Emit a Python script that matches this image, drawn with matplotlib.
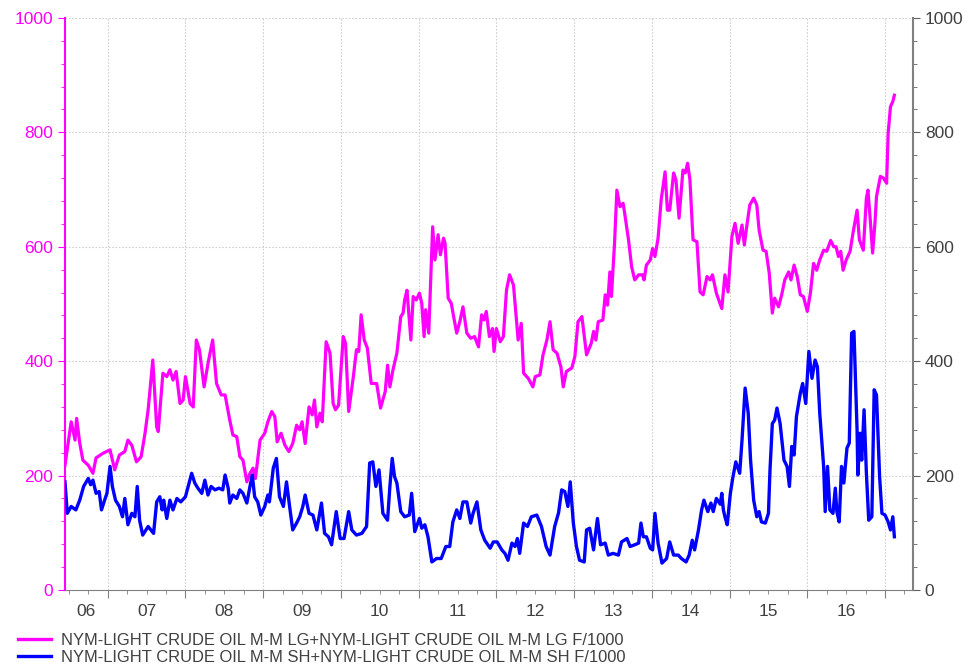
import numpy as np
import matplotlib.pyplot as plt
from matplotlib.lines import Line2D

plt.rcParams['font.family'] = ['Liberation Sans', 'DejaVu Sans']

# Managed money long positions (contracts / 1000), decimal year
lg_t = [2006.45, 2006.53, 2006.58, 2006.60, 2006.64, 2006.68, 2006.75, 2006.81, 2006.85, 2006.94,
        2007.03, 2007.09, 2007.15, 2007.22, 2007.26, 2007.31, 2007.37, 2007.43, 2007.48, 2007.52,
        2007.58, 2007.63, 2007.65, 2007.71, 2007.76, 2007.80, 2007.84, 2007.88, 2007.93, 2007.97,
        2008.00, 2008.06, 2008.10, 2008.14, 2008.18, 2008.24, 2008.29, 2008.35, 2008.40, 2008.46,
        2008.51, 2008.57, 2008.61, 2008.66, 2008.70, 2008.74, 2008.79, 2008.83, 2008.87, 2008.90,
        2008.96, 2009.02, 2009.06, 2009.11, 2009.15, 2009.18, 2009.23, 2009.28, 2009.33, 2009.38,
        2009.43, 2009.47, 2009.50, 2009.54, 2009.59, 2009.63, 2009.66, 2009.69, 2009.73, 2009.76,
        2009.81, 2009.86, 2009.90, 2009.93, 2009.97, 2010.03, 2010.06, 2010.10, 2010.16, 2010.20,
        2010.23, 2010.26, 2010.30, 2010.34, 2010.39, 2010.46, 2010.51, 2010.57, 2010.60, 2010.63,
        2010.67, 2010.72, 2010.77, 2010.80, 2010.82, 2010.85, 2010.90, 2010.93, 2010.97, 2011.01,
        2011.04, 2011.07, 2011.09, 2011.13, 2011.18, 2011.21, 2011.25, 2011.28, 2011.32, 2011.34,
        2011.38, 2011.42, 2011.45, 2011.49, 2011.53, 2011.57, 2011.62, 2011.67, 2011.72, 2011.77,
        2011.81, 2011.84, 2011.87, 2011.91, 2011.95, 2011.97, 2012.00, 2012.05, 2012.09, 2012.13,
        2012.17, 2012.22, 2012.28, 2012.32, 2012.35, 2012.41, 2012.47, 2012.50, 2012.56, 2012.60,
        2012.65, 2012.69, 2012.73, 2012.78, 2012.83, 2012.86, 2012.90, 2012.97, 2013.01, 2013.05,
        2013.10, 2013.16, 2013.22, 2013.25, 2013.28, 2013.31, 2013.37, 2013.40, 2013.43, 2013.46,
        2013.48, 2013.52, 2013.55, 2013.59, 2013.63, 2013.65, 2013.70, 2013.74, 2013.78, 2013.83,
        2013.88, 2013.90, 2013.93, 2013.98, 2014.01, 2014.04, 2014.08, 2014.12, 2014.17, 2014.20,
        2014.23, 2014.28, 2014.31, 2014.35, 2014.40, 2014.43, 2014.46, 2014.49, 2014.53, 2014.58,
        2014.62, 2014.66, 2014.71, 2014.75, 2014.78, 2014.83, 2014.88, 2014.90, 2014.94, 2014.98,
        2015.03, 2015.07, 2015.11, 2015.16, 2015.19, 2015.22, 2015.26, 2015.31, 2015.35, 2015.38,
        2015.43, 2015.47, 2015.51, 2015.55, 2015.58, 2015.63, 2015.67, 2015.71, 2015.76, 2015.79,
        2015.83, 2015.87, 2015.91, 2015.95, 2016.00, 2016.04, 2016.08, 2016.12, 2016.16, 2016.21,
        2016.25, 2016.30, 2016.34, 2016.37, 2016.40, 2016.43, 2016.46, 2016.50, 2016.55, 2016.59,
        2016.64, 2016.67, 2016.72, 2016.76, 2016.78, 2016.81, 2016.84, 2016.87, 2016.89, 2016.94,
        2016.98, 2017.02, 2017.04, 2017.07, 2017.10, 2017.12]
lg_v = [218, 294, 262, 300, 257, 227, 218, 204, 231, 239,
        245, 210, 236, 242, 262, 253, 224, 233, 274, 315,
        402, 285, 277, 379, 373, 385, 367, 382, 326, 332,
        373, 326, 320, 437, 420, 355, 396, 437, 361, 341,
        341, 297, 271, 268, 233, 227, 189, 204, 213, 195,
        262, 274, 294, 312, 303, 259, 274, 253, 242, 256,
        288, 280, 294, 256, 320, 306, 332, 285, 309, 294,
        434, 414, 326, 315, 323, 443, 431, 312, 373, 420,
        417, 481, 437, 423, 361, 361, 318, 347, 393, 355,
        385, 414, 478, 484, 507, 524, 437, 513, 507, 519,
        501, 443, 490, 449, 635, 577, 621, 586, 615, 606,
        510, 501, 478, 449, 469, 495, 449, 440, 443, 425,
        481, 472, 487, 443, 457, 417, 457, 434, 443, 524,
        551, 533, 437, 466, 379, 370, 355, 373, 376, 411,
        437, 469, 420, 414, 390, 355, 382, 388, 408, 469,
        478, 411, 431, 452, 437, 469, 472, 516, 498, 556,
        513, 606, 699, 670, 676, 659, 612, 565, 542, 551,
        551, 542, 568, 577, 597, 583, 615, 682, 731, 664,
        664, 729, 717, 650, 734, 729, 746, 717, 612, 609,
        521, 516, 548, 542, 551, 519, 500, 492, 551, 521,
        618, 641, 606, 638, 603, 635, 673, 685, 673, 629,
        594, 592, 554, 484, 510, 495, 516, 542, 556, 542,
        568, 548, 516, 513, 487, 519, 571, 559, 577, 594,
        592, 611, 600, 600, 583, 592, 559, 577, 592, 626,
        664, 612, 594, 685, 699, 647, 589, 641, 688, 723,
        720, 711, 799, 845, 854, 865]

# Managed money short positions (contracts / 1000), decimal year
sh_t = [2006.45, 2006.48, 2006.53, 2006.59, 2006.64, 2006.69, 2006.75, 2006.78, 2006.81, 2006.85,
        2006.89, 2006.92, 2006.96, 2006.99, 2007.03, 2007.06, 2007.10, 2007.15, 2007.19, 2007.22,
        2007.26, 2007.31, 2007.35, 2007.38, 2007.41, 2007.45, 2007.52, 2007.59, 2007.63, 2007.67,
        2007.70, 2007.72, 2007.76, 2007.80, 2007.84, 2007.89, 2007.94, 2008.00, 2008.08, 2008.12,
        2008.16, 2008.21, 2008.25, 2008.29, 2008.33, 2008.38, 2008.43, 2008.48, 2008.51, 2008.55,
        2008.57, 2008.61, 2008.66, 2008.70, 2008.74, 2008.79, 2008.83, 2008.86, 2008.89, 2008.93,
        2008.97, 2009.02, 2009.06, 2009.08, 2009.13, 2009.17, 2009.21, 2009.26, 2009.30, 2009.34,
        2009.38, 2009.43, 2009.47, 2009.51, 2009.54, 2009.59, 2009.64, 2009.69, 2009.75, 2009.79,
        2009.84, 2009.88, 2009.94, 2009.99, 2010.04, 2010.10, 2010.14, 2010.20, 2010.27, 2010.33,
        2010.37, 2010.41, 2010.45, 2010.49, 2010.54, 2010.60, 2010.63, 2010.66, 2010.69, 2010.72,
        2010.77, 2010.82, 2010.88, 2010.91, 2010.95, 2011.01, 2011.04, 2011.08, 2011.12, 2011.17,
        2011.23, 2011.29, 2011.35, 2011.40, 2011.44, 2011.49, 2011.53, 2011.57, 2011.62, 2011.67,
        2011.70, 2011.75, 2011.80, 2011.85, 2011.92, 2011.96, 2012.01, 2012.07, 2012.11, 2012.15,
        2012.20, 2012.24, 2012.27, 2012.30, 2012.35, 2012.40, 2012.45, 2012.52, 2012.58, 2012.64,
        2012.69, 2012.75, 2012.80, 2012.84, 2012.88, 2012.92, 2012.95, 2012.99, 2013.03, 2013.07,
        2013.13, 2013.16, 2013.20, 2013.25, 2013.30, 2013.34, 2013.40, 2013.44, 2013.50, 2013.57,
        2013.61, 2013.68, 2013.72, 2013.78, 2013.83, 2013.86, 2013.89, 2013.93, 2013.98, 2014.01,
        2014.04, 2014.08, 2014.13, 2014.19, 2014.23, 2014.28, 2014.34, 2014.38, 2014.44, 2014.48,
        2014.52, 2014.55, 2014.60, 2014.64, 2014.67, 2014.72, 2014.76, 2014.79, 2014.83, 2014.88,
        2014.90, 2014.92, 2014.94, 2014.97, 2015.01, 2015.04, 2015.08, 2015.13, 2015.16, 2015.20,
        2015.24, 2015.27, 2015.31, 2015.35, 2015.38, 2015.41, 2015.46, 2015.50, 2015.52, 2015.55,
        2015.58, 2015.61, 2015.65, 2015.70, 2015.74, 2015.77, 2015.80, 2015.83, 2015.86, 2015.91,
        2015.94, 2015.98, 2016.02, 2016.06, 2016.10, 2016.13, 2016.16, 2016.21, 2016.23, 2016.26,
        2016.29, 2016.33, 2016.36, 2016.38, 2016.41, 2016.44, 2016.47, 2016.51, 2016.54, 2016.57,
        2016.60, 2016.64, 2016.65, 2016.68, 2016.70, 2016.73, 2016.76, 2016.79, 2016.83, 2016.86,
        2016.89, 2016.93, 2016.96, 2017.00, 2017.04, 2017.07, 2017.10, 2017.12]
sh_v = [189, 134, 146, 140, 157, 181, 195, 184, 192, 169,
        172, 140, 157, 169, 216, 181, 157, 146, 128, 160,
        114, 134, 128, 181, 122, 96, 111, 99, 154, 163,
        140, 157, 125, 157, 140, 160, 154, 163, 204, 187,
        178, 169, 192, 166, 181, 175, 178, 175, 201, 178,
        152, 166, 160, 175, 169, 152, 181, 201, 163, 154,
        131, 146, 166, 154, 213, 230, 163, 146, 189, 146,
        105, 117, 128, 146, 166, 134, 131, 105, 152, 99,
        93, 79, 137, 90, 90, 137, 105, 96, 99, 111,
        222, 224, 181, 210, 134, 122, 181, 230, 198, 187,
        137, 128, 131, 169, 102, 125, 108, 114, 93, 49,
        55, 55, 76, 76, 119, 140, 125, 154, 154, 117,
        134, 154, 105, 87, 73, 84, 84, 70, 64, 52,
        82, 76, 90, 64, 117, 111, 128, 131, 111, 76,
        61, 111, 135, 175, 172, 146, 189, 117, 76, 52,
        49, 105, 108, 70, 125, 79, 82, 61, 64, 61,
        84, 90, 76, 79, 82, 117, 93, 93, 73, 70,
        134, 82, 47, 55, 84, 61, 61, 55, 49, 61,
        87, 70, 105, 140, 157, 137, 152, 137, 160, 150,
        169, 140, 128, 114, 169, 195, 224, 204, 262, 353,
        309, 227, 157, 128, 137, 119, 117, 134, 210, 291,
        297, 318, 291, 227, 216, 181, 251, 236, 303, 344,
        361, 326, 417, 370, 402, 390, 309, 216, 137, 216,
        140, 134, 178, 137, 119, 216, 187, 248, 257, 449,
        452, 280, 201, 274, 227, 315, 204, 122, 128, 350,
        341, 198, 134, 131, 119, 105, 128, 93]

year_labels = ['06', '07', '08', '09', '10', '11', '12', '13', '14', '15', '16']
lg_label = 'NYM-LIGHT CRUDE OIL M-M LG+NYM-LIGHT CRUDE OIL M-M LG F/1000'
sh_label = 'NYM-LIGHT CRUDE OIL M-M SH+NYM-LIGHT CRUDE OIL M-M SH F/1000'

x_min, x_max = 2006.45, 2017.36
magenta = '#FF00FF'
blue = '#0000FF'
txt = '#404040'

fig = plt.figure(figsize=(9.71, 6.68), dpi=100)
ax = fig.add_axes([0.0669, 0.1168, 0.8734, 0.8563])

ax.plot(lg_t, lg_v, color=magenta, lw=2.3, zorder=3)
ax.plot(sh_t, sh_v, color=blue, lw=2.4, zorder=3)

ax.set_xlim(x_min, x_max)
ax.set_ylim(0, 1000)

# x axis: year boundaries as major ticks, quarters as minor
years = np.arange(2007, 2018)
ax.set_xticks(years)
ax.set_xticks(np.arange(2006.5, 2017.3, 0.25), minor=True)
ax.set_xticklabels([])
ax.tick_params(axis='x', which='major', length=6, color='#808080', direction='out')
ax.tick_params(axis='x', which='minor', length=3, color='#808080', direction='out')

mids = [(x_min + 2007) / 2] + [y + 0.5 for y in range(2007, 2017)]
for xm, lab in zip(mids, year_labels):
    ax.text(xm, -0.038, lab, transform=ax.get_xaxis_transform(),
            ha='center', va='center', fontsize=12.5, color=txt)

# y axis
ax.set_yticks(np.arange(0, 1001, 200))
ax.set_yticks(np.arange(0, 1001, 40), minor=True)
ax.tick_params(axis='y', which='both', colors=magenta, labelsize=12.5, direction='out')
ax.tick_params(axis='y', which='major', length=5)
ax.tick_params(axis='y', which='minor', length=3)

ax.grid(True, which='major', color='#D0D0D0', linestyle=(0, (1.5, 1.5)), lw=0.8)

for s in ['top', 'right']:
    ax.spines[s].set_visible(False)
ax.spines['left'].set_color(magenta)
ax.spines['left'].set_linewidth(1.5)
ax.spines['bottom'].set_color('#808080')

ax2 = ax.twinx()
ax2.set_ylim(0, 1000)
ax2.set_yticks(np.arange(0, 1001, 200))
ax2.set_yticks(np.arange(0, 1001, 40), minor=True)
ax2.tick_params(axis='y', which='both', colors='#606060', labelcolor=txt,
                labelsize=12.5, direction='out')
ax2.tick_params(axis='y', which='major', length=5)
ax2.tick_params(axis='y', which='minor', length=3)
for s in ['top', 'left', 'bottom']:
    ax2.spines[s].set_visible(False)
ax2.spines['right'].set_color('#808080')
ax2.spines['right'].set_linewidth(1.5)

handles = [Line2D([], [], color=magenta, lw=2.4), Line2D([], [], color=blue, lw=2.4)]
fig.legend(handles, [lg_label, sh_label], loc='upper left',
           bbox_to_anchor=(18 / 971, 0.052), frameon=False, fontsize=11.9,
           handlelength=2.0, handletextpad=0.62, labelspacing=0.12,
           borderpad=0, borderaxespad=0, labelcolor=txt)

fig.savefig('out.png', dpi=100)
